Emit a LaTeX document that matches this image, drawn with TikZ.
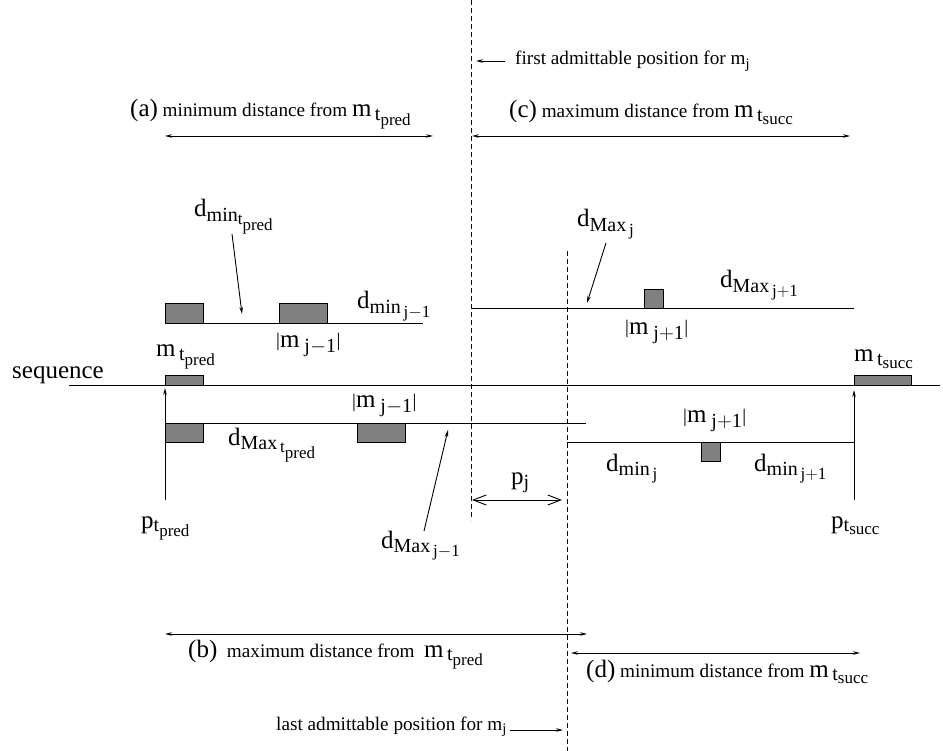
\documentclass[tikz,border=0pt]{standalone}
\usepackage{fontspec}
\setmainfont{Liberation Serif}
\usetikzlibrary{arrows.meta}

% font sizes of the figure (1pt = 1px of the drawing)
\newcommand{\bigf}{\fontsize{25}{28}\selectfont}
\newcommand{\smallf}{\fontsize{19.2}{22}\selectfont}
\DeclareMathSizes{25}{25}{20}{17}
\DeclareMathSizes{19.2}{19.2}{14.5}{11.5}
% subscripted labels
\newcommand{\vbar}{\raisebox{1pt}{\smallf\textbar}}
\newcommand{\msub}[1]{m$_{\hspace{5pt}\mathrm{#1}}$}
\newcommand{\dsub}[2]{d$_{\mathrm{#1}_{\,\mathrm{#2}}}$}
\newcommand{\tp}{\mathrm{t}_{\mathrm{pred}}}
\newcommand{\ts}{\mathrm{t}_{\mathrm{succ}}}

\tikzset{
  seg/.style={line width=0.9pt},
  blk/.style={fill=gray, draw=black, line width=0.9pt},
  guide/.style={line width=0.9pt, dash pattern=on 5pt off 3pt},
  dim/.style={line width=0.9pt, {Stealth[length=7pt,width=3.5pt]}-{Stealth[length=7pt,width=3.5pt]}},
  ptr/.style={line width=0.9pt, -{Stealth[length=7pt,width=3.5pt]}},
  pdim/.style={line width=0.9pt, {Straight Barb[length=13pt,width=10pt]}-{Straight Barb[length=13pt,width=10pt]}},
  lbl/.style={inner sep=0pt, anchor=base west, font=\bigf},
  note/.style={inner sep=0pt, anchor=base west, font=\smallf},
}

\begin{document}
\begin{tikzpicture}[x=1pt, y=-1pt]
    \useasboundingbox (0,0) rectangle (943,751);

    % the two admittable positions
    \draw[guide] (471,0) -- (471,520);
    \draw[guide] (567,251) -- (567,751);

    % sequence
    \draw[seg] (69,385) -- (940,385);
    \node[lbl] (seq) at (12,379) {sequence};
    \draw[blk] (165,375) rectangle (203,385);
    \draw[blk] (854,375) rectangle (911,385);
    \node[lbl] (mtp) at (156,357) {m$_{\,\tp}$};
    \node[lbl] (mts) at (854,362) {m$_{\,\ts}$};

    % (a) minimum distances from the predecessor
    \draw[seg] (165,323) -- (423,323);
    \draw[blk] (165,303) rectangle (203,323);
    \draw[blk] (279,303) rectangle (327,323);
    \coordinate (dmintp) at (242,314);
    \node[lbl] (ldmintp) at (194,217) {d$_{\mathrm{min}_{\tp}}$};
    \draw[ptr] (232,234) -- (dmintp);
    \node[lbl] (lmj1a) at (276,348) {\vbar\msub{j{-}1}\vbar};
    \node[lbl] (ldminj1) at (357,309) {\dsub{min}{j{-}1}};

    % (b) maximum distances from the predecessor
    \draw[seg] (165,423) -- (586,423);
    \draw[blk] (165,423) rectangle (203,442);
    \draw[blk] (357,423) rectangle (405,442);
    \node[lbl] (lmj1b) at (352,408) {\vbar\msub{j{-}1}\vbar};
    \node[lbl] (ldmaxtp) at (228,445) {d$_{\mathrm{Max}_{\,\tp}}$};
    \node[lbl] (ldmaxj1) at (381,548) {\dsub{Max}{j{-}1}};
    \coordinate (dmaxj1) at (448,430);
    \draw[ptr] (424,531) -- (dmaxj1);
    \coordinate (ptp) at (165,500);
    \coordinate (ptptop) at (165,388);
    \draw[ptr] (ptp) -- (ptptop);
    \node[lbl] (lptp) at (141,528) {p$_{\tp}$};

    % (c) maximum distances from the successor
    \draw[seg] (471,308) -- (854,308);
    \draw[blk] (644,289) rectangle (663,308);
    \node[lbl] (ldmaxj) at (577,227) {\dsub{Max}{j}};
    \coordinate (dmaxj) at (587,303);
    \draw[ptr] (606,243) -- (dmaxj);
    \node[lbl] (ldmaxj2) at (720,288) {\dsub{Max}{j{+}1}};
    \node[lbl] (lmj2a) at (625,335) {\vbar\msub{j{+}1}\vbar};

    % (d) minimum distances from the successor
    \draw[seg] (567,442) -- (854,442);
    \draw[blk] (701,442) rectangle (720,461);
    \node[lbl] (lmj2b) at (683,423) {\vbar\msub{j{+}1}\vbar};
    \node[lbl] (ldminj) at (606,471) {\dsub{min}{j}};
    \node[lbl] (ldminj2) at (754,471) {\dsub{min}{j{+}1}};
    \coordinate (pts) at (854,500);
    \coordinate (ptstop) at (854,390);
    \draw[ptr] (pts) -- (ptstop);
    \node[lbl] (lpts) at (831,528) {p$_{\ts}$};

    % p_j between both guides
    \coordinate (pjl) at (472,500);
    \coordinate (pjr) at (562,500);
    \draw[pdim] (pjl) -- (pjr);
    \node[lbl] (lpj) at (511,484) {p$_{\mathrm{j}}$};

    % captions and their ranges
    \node[note] (first) at (515,65) {first admittable position for m$_{\mathrm{j}}$};
    \coordinate (firstend) at (476,61);
    \draw[ptr] (505,61) -- (firstend);
    \node[note] (capa) at (130,117) {{\bigf(a)} minimum distance from {\bigf m$_{\,\tp}$}};
    \draw[dim] (165,136) -- (433,136);
    \node[note] (capc) at (509,118) {{\bigf(c)} maximum distance from {\bigf m$_{\,\ts}$}};
    \draw[dim] (472,136) -- (850,136);
    \draw[dim] (165,634) -- (587,634);
    \node[note] (capb) at (188,657) {{\bigf(b)}\ \ maximum distance from\ \ {\bigf m$_{\,\tp}$}};
    \draw[dim] (571,653) -- (860,653);
    \node[note] (capd) at (586,677) {{\bigf(d)} minimum distance from {\bigf m$_{\,\ts}$}};
    \node[note] (last) at (276,730) {last admittable position for m$_{\mathrm{j}}$};
    \coordinate (lastend) at (563,730);
    \draw[ptr] (510,730) -- (lastend);
\end{tikzpicture}
\end{document}
